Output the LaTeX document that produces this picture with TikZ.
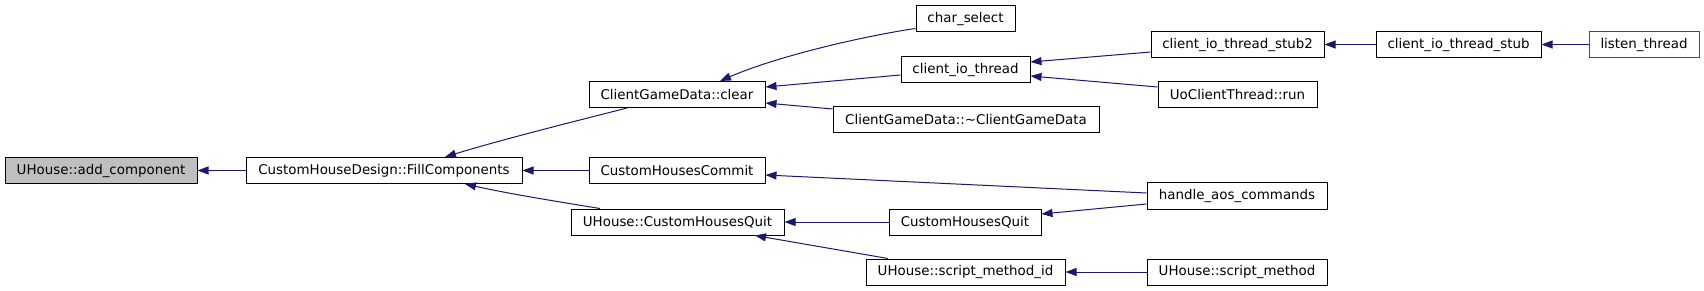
\documentclass[tikz,border=0pt]{standalone}
\usepackage{fontspec}
\setmainfont{DejaVu Sans}
\usetikzlibrary{arrows.meta}
\definecolor{edgeblue}{HTML}{191970}
\definecolor{grayfill}{HTML}{BFBFBF}
\begin{document}
\begin{tikzpicture}[x=1pt,y=-1pt,
  box/.style={draw=black,fill=white,line width=1pt,inner sep=0pt,minimum height=26pt,
    font=\fontsize{13.4}{16}\selectfont},
  edge/.style={draw=edgeblue,line width=1pt,-{Triangle[length=11pt,width=8pt]}}]
\useasboundingbox (0,0) rectangle (1704,291);
\node[box,fill=grayfill,minimum width=192pt] (add) at (101,170.5) {UHouse::add\_component};
\node[box,minimum width=276pt] (fill) at (384,170.5) {CustomHouseDesign::FillComponents};
\node[box,minimum width=176pt] (clear) at (677,94.5) {ClientGameData::clear};
\node[box,minimum width=176pt] (commit) at (677,170.5) {CustomHousesCommit};
\node[box,minimum width=213pt] (uquit) at (677.5,222) {UHouse::CustomHousesQuit};
\node[box,minimum width=99pt] (charsel) at (965.5,18.5) {char\_select};
\node[box,minimum width=129pt] (cio) at (965.5,70) {client\_io\_thread};
\node[box,minimum width=266pt] (dtor) at (966,120) {ClientGameData::\textasciitilde ClientGameData};
\node[box,minimum width=152pt] (quit) at (965,222) {CustomHousesQuit};
\node[box,minimum width=199pt] (smid) at (965.5,272) {UHouse::script\_method\_id};
\node[box,minimum width=173pt] (stubtwo) at (1237.5,44.5) {client\_io\_thread\_stub2};
\node[box,minimum width=159pt] (run) at (1237.5,94.5) {UoClientThread::run};
\node[box,minimum width=180pt] (aos) at (1237,196) {handle\_aos\_commands};
\node[box,minimum width=180pt] (sm) at (1237,272) {UHouse::script\_method};
\node[box,minimum width=165pt] (stub) at (1458.5,44.5) {client\_io\_thread\_stub};
\node[box,draw=red,minimum width=110pt] (listen) at (1644,44.5) {listen\_thread};

\draw[edge] (fill.west) -- (add.east);
\draw[edge] ([xshift=-50pt]clear.south) .. controls (580,120) and (500,140) .. ([xshift=61pt]fill.north);
\draw[edge] (commit.west) -- (fill.east);
\draw[edge] ([xshift=-77.5pt]uquit.north) .. controls (560,202) and (510,194) .. ([xshift=81pt]fill.south);
\draw[edge] ([yshift=-10pt]charsel.west) .. controls (870,35) and (780,55) .. ([xshift=43pt]clear.north);
\draw[edge] ([yshift=-5pt]cio.west) -- ([yshift=7.5pt]clear.east);
\draw[edge] ([yshift=11pt]dtor.west) -- ([yshift=-8.5pt]clear.east);
\draw[edge] ([yshift=-7.5pt]stubtwo.west) -- ([yshift=8pt]cio.east);
\draw[edge] ([yshift=7.5pt]run.west) -- ([yshift=-6pt]cio.east);
\draw[edge] (stub.west) -- (stubtwo.east);
\draw[edge] (listen.west) -- (stub.east);
\draw[edge] ([yshift=3pt]aos.west) -- ([yshift=-4.5pt]commit.east);
\draw[edge] ([yshift=-8pt]aos.west) -- ([yshift=8pt]quit.east);
\draw[edge] (quit.west) -- (uquit.east);
\draw[edge] ([xshift=-77.5pt]smid.north) -- ([xshift=77.5pt]uquit.south);
\draw[edge] (sm.west) -- (smid.east);
\end{tikzpicture}
\end{document}
